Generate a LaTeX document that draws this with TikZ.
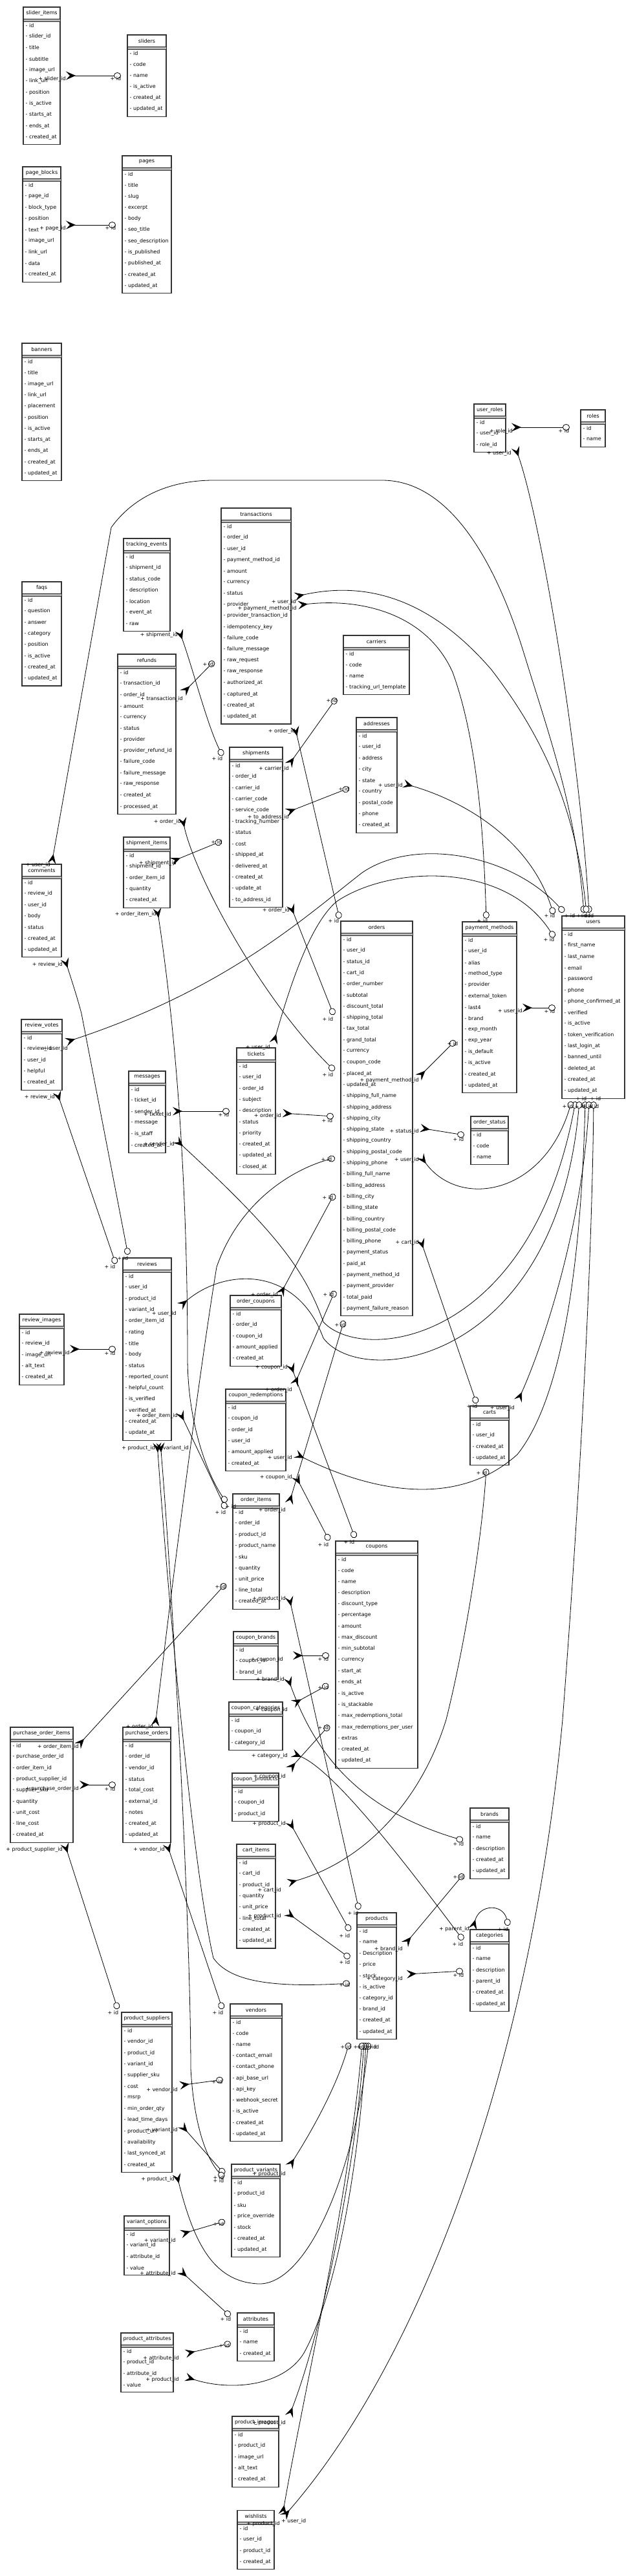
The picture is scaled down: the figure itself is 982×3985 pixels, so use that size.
\documentclass[tikz,border=0pt]{standalone}
\usepackage{fontspec}
\setmainfont{DejaVu Sans}
\usetikzlibrary{arrows.meta}
\tikzset{
  tbox/.style={draw=black!80, line width=1.1pt, fill=white, inner sep=0pt, outer sep=0pt},
  tlab/.style={inner sep=0pt, font=\fontsize{8}{9}\selectfont},
  band/.style={draw=black!85, fill=gray!55, line width=0.6pt},
  fk/.style={line width=0.8pt, {Stealth[reversed,length=15pt,width=13pt,inset=6pt]}-{Circle[length=11pt,width=10pt,fill=white]}},
}
\newcommand\ertable[6]{%
  \foreach \f [count=\i] in {#6} {\xdef\ern{\i}}%
  \pgfmathsetmacro\erh{28.4+(\ern-1)*17.3+11.5}%
  \pgfmathsetmacro\erw{#4-#2}%
  \node[tbox, minimum width=\erw pt, minimum height=\erh pt, anchor=north west] (#1) at (#2,#3) {};%
  \draw[band] (#2,#3+18.5) rectangle (#4,#3+22);%
  \node[tlab] (#1-t) at ({(#2+#4)/2},#3+9.5) {#5};%
  \foreach \f [count=\i] in {#6} {\node[tlab, anchor=west] (#1-\i) at (#2+3.5,{#3+28.4+(\i-1)*17.3}) {- \f};}%
}
\newcommand\conn[4]{\coordinate (#1s) at (#2); \coordinate (#1e) at (#3); \draw[fk] (#1s) #4 (#1e);}
\newcommand\lb[4]{\node[tlab, anchor=#3] (#1) at (#2) {#4};}
\begin{document}
\catcode`\_=12
\begin{tikzpicture}[x=1pt,y=-1pt]
\fill[white] (0,0) rectangle (982,3985);
\useasboundingbox (0,0) rectangle (982,3985);
% ---------------- tables
\ertable{slideritems}{36}{11}{93}{slider_items}{id,slider_id,title,subtitle,image_url,link_url,position,is_active,starts_at,ends_at,created_at}
\ertable{sliders}{197}{54}{257}{sliders}{id,code,name,is_active,created_at,updated_at}
\ertable{pageblocks}{35}{258}{94}{page_blocks}{id,page_id,block_type,position,text,image_url,link_url,data,created_at}
\ertable{pages}{189}{241}{265}{pages}{id,title,slug,excerpt,body,seo_title,seo_description,is_published,published_at,created_at,updated_at}
\ertable{banners}{34}{531}{95}{banners}{id,title,image_url,link_url,placement,position,is_active,starts_at,ends_at,created_at,updated_at}
\ertable{faqs}{34}{900}{95}{faqs}{id,question,answer,category,position,is_active,created_at,updated_at}
\ertable{trackingevents}{191}{833}{263}{tracking_events}{id,shipment_id,status_code,description,location,event_at,raw}
\ertable{refunds}{182}{1012}{272}{refunds}{id,transaction_id,order_id,amount,currency,status,provider,provider_refund_id,failure_code,failure_message,raw_response,created_at,processed_at}
\ertable{transactions}{342}{786}{450}{transactions}{id,order_id,user_id,payment_method_id,amount,currency,status,provider,provider_transaction_id,idempotency_key,failure_code,failure_message,raw_request,raw_response,authorized_at,captured_at,created_at,updated_at}
\ertable{shipments}{355}{1156}{437}{shipments}{id,order_id,carrier_id,carrier_code,service_code,tracking_number,status,cost,shipped_at,delivered_at,created_at,update_at,to_address_id}
\ertable{shipmentitems}{191}{1295}{263}{shipment_items}{id,shipment_id,order_item_id,quantity,created_at}
\ertable{userroles}{733}{625}{782}{user_roles}{id,user_id,role_id}
\ertable{roles}{898}{634}{936}{roles}{id,name}
\ertable{carriers}{531}{983}{633}{carriers}{id,code,name,tracking_url_template}
\ertable{addresses}{551}{1110}{614}{addresses}{id,user_id,address,city,state,country,postal_code,phone,created_at}
\ertable{comments}{34}{1337}{95}{comments}{id,review_id,user_id,body,status,created_at,updated_at}
\ertable{reviewvotes}{33}{1577}{96}{review_votes}{id,review_id,user_id,helpful,created_at}
\ertable{messages}{199}{1657}{256}{messages}{id,ticket_id,sender_id,message,is_staff,created_at}
\ertable{tickets}{366}{1621}{426}{tickets}{id,user_id,order_id,subject,description,status,priority,created_at,updated_at,closed_at}
\ertable{reviews}{190}{1946}{265}{reviews}{id,user_id,product_id,variant_id,order_item_id,rating,title,body,status,reported_count,helpful_count,is_verified,verified_at,created_at,update_at}
\ertable{orders}{527}{1425}{638}{orders}{id,user_id,status_id,cart_id,order_number,subtotal,discount_total,shipping_total,tax_total,grand_total,currency,coupon_code,placed_at,updated_at,shipping_full_name,shipping_address,shipping_city,shipping_state,shipping_country,shipping_postal_code,shipping_phone,billing_full_name,billing_address,billing_city,billing_state,billing_country,billing_postal_code,billing_phone,payment_status,paid_at,payment_method_id,payment_provider,total_paid,payment_failure_reason}
\ertable{paymentmethods}{715}{1426}{799}{payment_methods}{id,user_id,alias,method_type,provider,external_token,last4,brand,exp_month,exp_year,is_default,is_active,created_at,updated_at}
\ertable{users}{869}{1417}{966}{users}{id,first_name,last_name,email,password,phone,phone_confirmed_at,verified,is_active,token_verification,last_login_at,banned_until,deleted_at,created_at,updated_at}
\ertable{orderstatus}{728}{1727}{786}{order_status}{id,code,name}
\ertable{reviewimages}{30}{2033}{99}{review_images}{id,review_id,image_url,alt_text,created_at}
\ertable{ordercoupons}{356}{2004}{435}{order_coupons}{id,order_id,coupon_id,amount_applied,created_at}
\ertable{couponredemptions}{349}{2149}{442}{coupon_redemptions}{id,coupon_id,order_id,user_id,amount_applied,created_at}
\ertable{orderitems}{360}{2311}{432}{order_items}{id,order_id,product_id,product_name,sku,quantity,unit_price,line_total,created_at}
\ertable{couponbrands}{361}{2524}{430}{coupon_brands}{id,coupon_id,brand_id}
\ertable{couponcategories}{354}{2633}{437}{coupon_categories}{id,coupon_id,category_id}
\ertable{carts}{727}{2175}{787}{carts}{id,user_id,created_at,updated_at}
\ertable{coupons}{519}{2384}{646}{coupons}{id,code,name,description,discount_type,percentage,amount,max_discount,min_subtotal,currency,start_at,ends_at,is_active,is_stackable,max_redemptions_total,max_redemptions_per_user,extras,created_at,updated_at}
\ertable{purchaseorderitems}{16}{2672}{113}{purchase_order_items}{id,purchase_order_id,order_item_id,product_supplier_id,supplier_sku,quantity,unit_cost,line_cost,created_at}
\ertable{purchaseorders}{190}{2672}{264}{purchase_orders}{id,order_id,vendor_id,status,total_cost,external_id,notes,created_at,updated_at}
\ertable{productsuppliers}{188}{3113}{266}{product_suppliers}{id,vendor_id,product_id,variant_id,supplier_sku,cost,msrp,min_order_qty,lead_time_days,product_url,availability,last_synced_at,created_at}
\ertable{vendors}{356}{3100}{436}{vendors}{id,code,name,contact_email,contact_phone,api_base_url,api_key,webhook_secret,is_active,created_at,updated_at}
\ertable{couponproducts}{359}{2743}{431}{coupon_products}{id,coupon_id,product_id}
\ertable{cartitems}{366}{2853}{426}{cart_items}{id,cart_id,product_id,quantity,unit_price,line_total,created_at,updated_at}
\ertable{brands}{727}{2797}{787}{brands}{id,name,description,created_at,updated_at}
\ertable{products}{552}{2959}{613}{products}{id,name,Description,price,stock,is_active,category_id,brand_id,created_at,updated_at}
\ertable{categories}{727}{2985}{787}{categories}{id,name,description,parent_id,created_at,updated_at}
\ertable{productvariants}{358}{3348}{433}{product_variants}{id,product_id,sku,price_override,stock,created_at,updated_at}
\ertable{variantoptions}{192}{3428}{262}{variant_options}{id,variant_id,attribute_id,value}
\ertable{attributes}{367}{3578}{424}{attributes}{id,name,created_at}
\ertable{productattributes}{187}{3609}{268}{product_attributes}{id,product_id,attribute_id,value}
\ertable{productimages}{359}{3738}{431}{product_images}{id,product_id,image_url,alt_text,created_at}
\ertable{wishlists}{367}{3883}{424}{wishlists}{id,user_id,product_id,created_at}
% ---------------- connectors
\conn{k1}{102,117}{187,117}{--}
\conn{k2}{102,348}{179,348}{--}
\conn{k3}{791,661}{881,661}{--}
\conn{k4}{797,692}{911,1412}{.. controls (835,800) and (895,1150) ..}
\conn{k5}{80,1336}{903,1412}{-- (172,816) .. controls (205,770) and (260,743) .. (330,743) -- (591,743) .. controls (700,743) and (770,880) .. (810,1010) .. controls (850,1140) and (890,1250) ..}
\conn{k6}{100,1483}{198,1941}{.. controls (112,1520) and (120,1545) .. (126,1568) --}
\conn{k7}{88,1689}{179,1955}{--}
\conn{k8}{102,1612}{872,1411}{.. controls (350,1530) and (470,1420) .. (560,1350) .. controls (640,1295) and (790,1320) ..}
\conn{k9}{267,1719}{355,1719}{--}
\conn{k10}{272,1763}{890,1704}{.. controls (420,1900) and (470,1960) .. (500,2045) .. controls (560,2110) and (820,2080) ..}
\conn{k11}{278,2021}{896,1704}{.. controls (350,1960) and (460,1960) .. (500,2070) .. controls (560,2150) and (860,2110) ..}
\conn{k12}{457,2249}{905,1704}{.. controls (560,2300) and (700,2340) .. (800,2250) .. controls (880,2150) and (900,1900) ..}
\conn{k13}{650,1788}{884,1704}{.. controls (710,1870) and (840,1850) ..}
\conn{k14}{801,2167}{911,1704}{.. controls (840,2080) and (900,1900) ..}
\conn{k15}{438,3894}{918,1704}{.. controls (650,3650) and (820,3200) .. (870,2660) .. controls (890,2400) and (915,2000) ..}
\conn{k16}{456,923}{907,1412}{.. controls (560,900) and (660,920) .. (760,1036) .. controls (840,1140) and (890,1250) ..}
\conn{k17}{461,936}{752,1421}{.. controls (560,925) and (660,950) .. (700,1040) .. controls (740,1150) and (748,1300) ..}
\conn{k18}{283,1072}{331,1023}{--}
\conn{k19}{282,1265}{517,1656}{.. controls (300,1350) and (400,1540) ..}
\conn{k20}{277,975}{344,1169}{.. controls (300,1040) and (320,1120) ..}
\conn{k21}{265,1333}{343,1301}{--}
\conn{k22}{243,1405}{350,2324}{.. controls (280,1650) and (290,1900) .. (290,2100) .. controls (290,2200) and (320,2280) ..}
\conn{k23}{278,2184}{349,2334}{--}
\conn{k24}{647,1667}{704,1610}{--}
\conn{k25}{650,1745}{718,1756}{--}
\conn{k26}{650,1917}{737,2171}{--}
\conn{k27}{808,1559}{859,1559}{--}
\conn{k28}{624,1212}{856,1414}{.. controls (720,1240) and (820,1300) ..}
\conn{k29}{423,1614}{857,1450}{.. controls (450,1520) and (480,1430) .. (520,1395) .. controls (600,1340) and (780,1330) ..}
\conn{k30}{456,1124}{525,1421}{--}
\conn{k31}{449,1400}{516,1570}{--}
\conn{k32}{437,1722}{516,1727}{--}
\conn{k33}{446,1184}{520,1080}{--}
\conn{k34}{443,1257}{540,1219}{--}
\conn{k35}{240,2670}{518,1791}{.. controls (272,2400) and (312,2100) .. (335,1960) .. controls (370,1860) and (450,1810) ..}
\conn{k36}{258,2852}{344,3108}{--}
\conn{k37}{123,2761}{179,2761}{--}
\conn{k38}{120,2701}{349,2450}{--}
\conn{k39}{100,2852}{182,3108}{--}
\conn{k40}{278,3226}{345,3217}{--}
\conn{k41}{280,3287}{347,3363}{--}
\conn{k42}{248,2232}{346,3369}{.. controls (270,2500) and (295,3000) .. (295,3200) .. controls (300,3290) and (320,3340) ..}
\conn{k43}{243,2232}{541,3068}{.. controls (262,2500) and (300,2900) .. (330,3029) .. controls (355,3065) and (420,3075) ..}
\conn{k44}{273,3363}{570,3160}{.. controls (300,3470) and (330,3530) .. (400,3533) .. controls (470,3535) and (545,3380) ..}
\conn{k45}{447,3352}{540,3160}{.. controls (480,3300) and (520,3230) ..}
\conn{k46}{287,3677}{566,3160}{.. controls (360,3700) and (440,3690) .. (470,3640) .. controls (520,3550) and (555,3350) ..}
\conn{k47}{447,3738}{563,3160}{.. controls (500,3600) and (550,3350) ..}
\conn{k48}{437,3890}{560,3160}{.. controls (470,3700) and (540,3400) ..}
\conn{k49}{280,3456}{348,3436}{--}
\conn{k50}{278,3512}{356,3583}{--}
\conn{k51}{287,3641}{357,3625}{--}
\conn{k52}{626,3008}{717,2899}{--}
\conn{k53}{629,3054}{716,3049}{--}
\conn{k54}{731,2984}{786,2979}{.. controls (742,2945) and (778,2945) ..}
\conn{k55}{452,2712}{716,3001}{.. controls (520,2740) and (640,2900) ..}
\conn{k56}{445,2595}{716,2847}{.. controls (490,2720) and (560,2800) ..}
\conn{k57}{453,2561}{509,2561}{--}
\conn{k58}{453,2636}{508,2606}{--}
\conn{k59}{447,2738}{509,2669}{--}
\conn{k60}{447,2817}{541,2987}{--}
\conn{k61}{445,2913}{752,2272}{.. controls (560,2880) and (650,2790) .. (690,2660) .. controls (720,2540) and (745,2380) ..}
\conn{k62}{443,2958}{541,3029}{--}
\conn{k63}{447,2470}{555,2954}{--}
\conn{k64}{447,2326}{532,2043}{--}
\conn{k65}{433,2003}{517,1847}{--}
\conn{k66}{449,2110}{549,2379}{--}
\conn{k67}{455,2143}{518,1997}{--}
\conn{k68}{457,2283}{509,2383}{--}
\conn{k69}{108,2087}{179,2087}{--}
% ---------------- child labels
\lb{a1}{102,122}{east}{+ slider_id}
\lb{a2}{102,353}{east}{+ page_id}
\lb{a3}{793,667}{east}{+ role_id}
\lb{a4}{791,701}{east}{+ user_id}
\lb{a5}{78,1338}{east}{+ user_id}
\lb{a6}{97,1492}{east}{+ review_id}
\lb{a7}{85,1697}{east}{+ review_id}
\lb{a8}{105,1622}{east}{+ user_id}
\lb{a9}{265,1724}{east}{+ ticket_id}
\lb{a10}{270,1770}{east}{+ sender_id}
\lb{a11}{273,2032}{east}{+ user_id}
\lb{a12}{452,2255}{east}{+ user_id}
\lb{a13}{648,1794}{east}{+ user_id}
\lb{a14}{796,2178}{east}{+ user_id}
\lb{a15}{435,3900}{west}{+ user_id}
\lb{a16}{458,931}{east}{+ user_id}
\lb{a17}{459,941}{east}{+ payment_method_id}
\lb{a18}{283,1081}{east}{+ transaction_id}
\lb{a19}{280,1271}{east}{+ order_id}
\lb{a20}{275,982}{east}{+ shipment_id}
\lb{a21}{273,1335}{east}{+ shipment_id}
\lb{a22}{242,1414}{east}{+ order_item_id}
\lb{a23}{275,2190}{east}{+ order_item_id}
\lb{a24}{648,1671}{east}{+ payment_method_id}
\lb{a25}{648,1750}{east}{+ status_id}
\lb{a26}{648,1922}{east}{+ cart_id}
\lb{a27}{808,1564}{east}{+ user_id}
\lb{a28}{623,1215}{east}{+ user_id}
\lb{a29}{418,1620}{east}{+ user_id}
\lb{a30}{457,1131}{east}{+ order_id}
\lb{a31}{448,1408}{east}{+ order_id}
\lb{a32}{435,1726}{east}{+ order_id}
\lb{a33}{447,1189}{east}{+ carrier_id}
\lb{a34}{447,1264}{east}{+ to_address_id}
\lb{a35}{237,2671}{east}{+ order_id}
\lb{a36}{255,2861}{east}{+ vendor_id}
\lb{a37}{122,2767}{east}{+ purchase_order_id}
\lb{a38}{122,2702}{east}{+ order_item_id}
\lb{a39}{97,2861}{east}{+ product_supplier_id}
\lb{a40}{275,3233}{east}{+ vendor_id}
\lb{a41}{275,3295}{east}{+ variant_id}
\lb{a42}{240,2240}{east}{+ product_id}
\lb{a43}{292,2240}{east}{+ variant_id}
\lb{a44}{270,3371}{east}{+ product_id}
\lb{a45}{442,3363}{east}{+ product_id}
\lb{a46}{277,3681}{east}{+ product_id}
\lb{a47}{442,3748}{east}{+ product_id}
\lb{a48}{433,3904}{east}{+ product_id}
\lb{a49}{272,3466}{east}{+ variant_id}
\lb{a50}{272,3517}{east}{+ attribute_id}
\lb{a51}{277,3648}{east}{+ attribute_id}
\lb{a52}{623,3015}{east}{+ brand_id}
\lb{a53}{623,3061}{east}{+ category_id}
\lb{a54}{726,2984}{east}{+ parent_id}
\lb{a55}{445,2716}{east}{+ category_id}
\lb{a56}{440,2598}{east}{+ brand_id}
\lb{a57}{438,2567}{east}{+ coupon_id}
\lb{a58}{445,2645}{east}{+ coupon_id}
\lb{a59}{442,2748}{east}{+ coupon_id}
\lb{a60}{442,2821}{east}{+ product_id}
\lb{a61}{435,2924}{east}{+ cart_id}
\lb{a62}{435,2964}{east}{+ product_id}
\lb{a63}{442,2473}{east}{+ product_id}
\lb{a64}{442,2336}{east}{+ order_id}
\lb{a65}{430,2003}{east}{+ order_id}
\lb{a66}{445,2115}{east}{+ coupon_id}
\lb{a67}{452,2150}{east}{+ order_id}
\lb{a68}{452,2285}{east}{+ coupon_id}
\lb{a69}{108,2093}{east}{+ review_id}
% ---------------- parent labels
\lb{b1}{179,122}{center}{+ id}
\lb{b2}{171,353}{center}{+ id}
\lb{b3}{872,667}{center}{+ id}
\lb{b4}{850,1417}{center}{+ id}
\lb{b5}{881,1417}{center}{+ id}
\lb{b6}{900,1417}{center}{+ id}
\lb{b7}{905,1417}{center}{+ id}
\lb{b8}{910,1417}{center}{+ id}
\lb{b9}{849,1453}{center}{+ id}
\lb{b10}{850,1564}{center}{+ id}
\lb{b11}{878,1711}{center}{+ id}
\lb{b12}{897,1711}{center}{+ id}
\lb{b13}{909,1711}{center}{+ id}
\lb{b14}{899,1699}{center}{+ id}
\lb{b15}{921,1699}{center}{+ id}
\lb{b16}{918,1711}{center}{+ id}
\lb{b17}{516,1425}{center}{+ id}
\lb{b18}{507,1576}{center}{+ id}
\lb{b19}{507,1662}{center}{+ id}
\lb{b20}{506,1733}{center}{+ id}
\lb{b21}{505,1793}{center}{+ id}
\lb{b22}{507,1852}{center}{+ id}
\lb{b23}{508,2002}{center}{+ id}
\lb{b24}{526,2049}{center}{+ id}
\lb{b25}{746,1425}{center}{+ id}
\lb{b26}{700,1614}{center}{+ id}
\lb{b27}{709,1762}{center}{+ id}
\lb{b28}{730,2175}{center}{+ id}
\lb{b29}{745,2278}{center}{+ id}
\lb{b30}{540,2385}{center}{+ id}
\lb{b31}{500,2389}{center}{+ id}
\lb{b32}{500,2566}{center}{+ id}
\lb{b33}{500,2610}{center}{+ id}
\lb{b34}{500,2672}{center}{+ id}
\lb{b35}{322,1028}{center}{+ id}
\lb{b36}{336,1174}{center}{+ id}
\lb{b37}{335,1303}{center}{+ id}
\lb{b38}{513,1084}{center}{+ id}
\lb{b39}{532,1221}{center}{+ id}
\lb{b40}{190,1946}{center}{+ id}
\lb{b41}{170,1959}{center}{+ id}
\lb{b42}{170,2093}{center}{+ id}
\lb{b43}{346,1724}{center}{+ id}
\lb{b44}{341,2339}{center}{+ id}
\lb{b45}{357,2330}{center}{+ id}
\lb{b46}{341,2454}{center}{+ id}
\lb{b47}{170,2767}{center}{+ id}
\lb{b48}{175,3113}{center}{+ id}
\lb{b49}{337,3113}{center}{+ id}
\lb{b50}{336,3220}{center}{+ id}
\lb{b51}{338,3368}{center}{+ id}
\lb{b52}{338,3373}{center}{+ id}
\lb{b53}{338,3440}{center}{+ id}
\lb{b54}{349,3587}{center}{+ id}
\lb{b55}{347,3628}{center}{+ id}
\lb{b56}{709,2852}{center}{+ id}
\lb{b57}{709,2903}{center}{+ id}
\lb{b58}{778,2984}{center}{+ id}
\lb{b59}{708,3007}{center}{+ id}
\lb{b60}{709,3055}{center}{+ id}
\lb{b61}{546,2959}{center}{+ id}
\lb{b62}{533,2994}{center}{+ id}
\lb{b63}{533,3035}{center}{+ id}
\lb{b64}{533,3070}{center}{+ id}
\lb{b65}{535,3166}{center}{+ id}
\lb{b66}{555,3166}{center}{+ id}
\lb{b67}{560,3166}{center}{+ id}
\lb{b68}{574,3166}{center}{+ id}
\lb{b69}{578,3166}{center}{+ id}
\end{tikzpicture}
\end{document}
